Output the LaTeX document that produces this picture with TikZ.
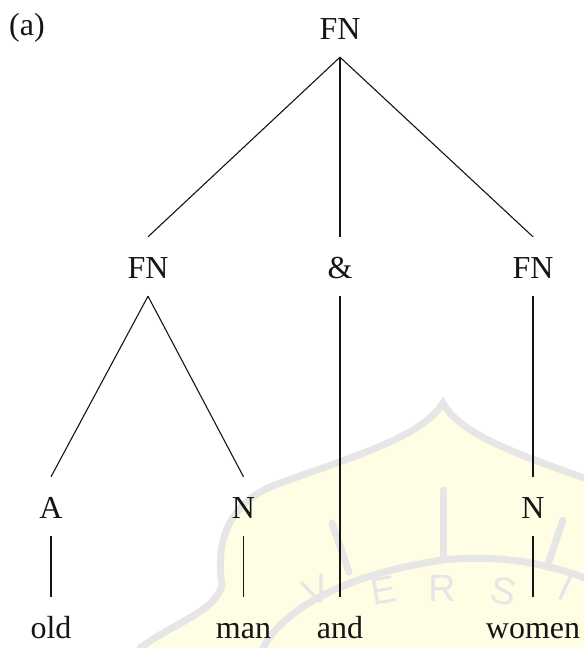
\documentclass[tikz,border=0pt]{standalone}
\usepackage{fontspec}
\setmainfont{Liberation Serif}
\newfontfamily\wmfont{Liberation Sans}
\definecolor{wmfill}{HTML}{FFFDE3}
\definecolor{wmline}{HTML}{E6E6E6}
\definecolor{ink}{HTML}{151515}

\tikzset{
  lbl/.style={anchor=base, font=\fontsize{32}{38}\selectfont, text=ink,
    inner xsep=0pt, inner ysep=18pt, text height=23pt, text depth=0pt},
  branch/.style={draw=ink, line width=1.1pt},
  wmband/.style={draw=wmline, line width=7pt, line cap=round},
  wmletter/.style={font=\wmfont\fontsize{38}{38}\selectfont, text=wmline, inner sep=0pt}
}

\begin{document}
\begin{tikzpicture}[x=1pt, y=-1pt]
  \useasboundingbox (0,0) rectangle (584,648);

  % faint emblem in the background
  \begin{scope}
    \clip (0,0) rectangle (584,648);
    \fill[wmfill] (140,648) .. controls (175,622) and (215,612) .. (222,585)
      .. controls (215,540) and (230,505) .. (270,487)
      .. controls (340,460) and (420,440) .. (443,403)
      .. controls (460,435) and (520,455) .. (590,480)
      -- (590,650) -- cycle;
    \draw[wmband] (140,648) .. controls (175,622) and (215,612) .. (222,585)
      .. controls (215,540) and (230,505) .. (270,487)
      .. controls (340,460) and (420,440) .. (443,403)
      .. controls (460,435) and (520,455) .. (590,480);
    \draw[wmband] (262,650) .. controls (280,612) and (340,575) .. (443,560)
      .. controls (500,554) and (550,564) .. (590,580);
    \draw[wmband] (443,490) -- (443,557);
    \draw[wmband] (332,523) -- (349,572);
    \draw[wmband] (563,520) -- (547,567);
    \node[wmletter, rotate=22]  (wmV) at (316,591) {V};
    \node[wmletter, rotate=10]  (wmE) at (384,590) {E};
    \node[wmletter, rotate=0]   (wmR) at (442,588) {R};
    \node[wmletter, rotate=-12] (wmS) at (504,591) {S};
    \node[wmletter, rotate=-25] (wmI) at (566,588) {I};
  \end{scope}

  % label of the example
  \node[lbl, anchor=base west] (tag) at (9,35) {(a)};

  % tree nodes
  \node[lbl] (root) at (340,39)  {FN};
  \node[lbl] (fnl)  at (148,278) {FN};
  \node[lbl] (amp)  at (340,278) {\&};
  \node[lbl] (fnr)  at (533,278) {FN};
  \node[lbl] (adj)  at (51,518)  {A};
  \node[lbl] (nl)   at (243.5,518) {N};
  \node[lbl] (nr)   at (533,518) {N};
  \node[lbl] (old)  at (51,638)  {old};
  \node[lbl] (man)  at (243.5,638) {man};
  \node[lbl] (and)  at (340,638) {and};
  \node[lbl] (women) at (533,638) {women};

  % branches
  \draw[branch] (root.south) -- (fnl.north);
  \draw[branch] (root.south) -- (amp.north);
  \draw[branch] (root.south) -- (fnr.north);
  \draw[branch] (fnl.south) -- (adj.north);
  \draw[branch] (fnl.south) -- (nl.north);
  \draw[branch] (fnr.south) -- (nr.north);
  \draw[branch] (adj.south) -- (old.north);
  \draw[branch] (nl.south) -- (man.north);
  \draw[branch] (amp.south) -- (and.north);
  \draw[branch] (nr.south) -- (women.north);
\end{tikzpicture}
\end{document}
